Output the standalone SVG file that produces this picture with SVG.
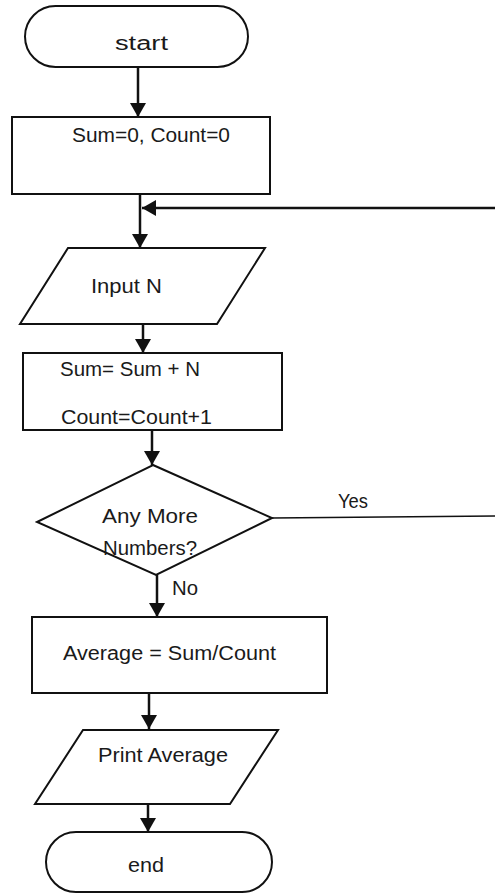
<svg xmlns="http://www.w3.org/2000/svg" width="495" height="894" viewBox="0 0 495 894">
<style>
.shape{fill:#fff;stroke:#111;stroke-width:2}
.lbl{font-family:"Liberation Sans",Arial,sans-serif;font-size:20px;fill:#1a1a1a}
.conn{fill:none;stroke:#111;stroke-width:2.5}
.thin{fill:none;stroke:#111;stroke-width:1.6}
</style>
<defs>
<marker id="ah" markerUnits="userSpaceOnUse" markerWidth="18" markerHeight="16" viewBox="0 0 14 16" refX="14" refY="8" orient="auto">
<path d="M0,0 L14,8 L0,16 Z" fill="#111"/>
</marker>
</defs>
<rect width="495" height="894" fill="#fff"/>
<g id="connectors">
<line class="conn" x1="138" y1="67" x2="138" y2="117" marker-end="url(#ah)"/>
<line class="conn" x1="140" y1="195" x2="140" y2="248" marker-end="url(#ah)"/>
<path class="thin" d="M272,518 L498,516 L498,208"/>
<line class="conn" x1="498" y1="208" x2="142" y2="208" marker-end="url(#ah)"/>
<line class="conn" x1="143" y1="324" x2="143" y2="353" marker-end="url(#ah)"/>
<line class="conn" x1="152" y1="430" x2="152" y2="465" marker-end="url(#ah)"/>
<line class="conn" x1="157" y1="575" x2="157" y2="617" marker-end="url(#ah)"/>
<line class="conn" x1="149" y1="693" x2="149" y2="729" marker-end="url(#ah)"/>
<line class="conn" x1="148" y1="804" x2="148" y2="832" marker-end="url(#ah)"/>
<text class="lbl" x="338" y="508" textLength="30" lengthAdjust="spacingAndGlyphs" font-size="18">Yes</text>
<text class="lbl" x="172" y="595" textLength="26" lengthAdjust="spacingAndGlyphs" font-size="18">No</text>
</g>
<g id="start">
<rect class="shape" x="25" y="6" width="223" height="61" rx="30.5"/>
<text class="lbl" x="115" y="50" font-size="22" textLength="53" lengthAdjust="spacingAndGlyphs">start</text>
</g>
<g id="init">
<rect class="shape" x="12" y="117" width="258" height="77"/>
<text class="lbl" x="72" y="142" textLength="158" lengthAdjust="spacingAndGlyphs">Sum=0, Count=0</text>
</g>
<g id="input">
<polygon class="shape" points="68,248 265,248 217,324 20,324"/>
<text class="lbl" x="91" y="293" textLength="71" lengthAdjust="spacingAndGlyphs">Input N</text>
</g>
<g id="update">
<rect class="shape" x="23" y="353" width="259" height="77"/>
<text class="lbl" x="60" y="376" textLength="140" lengthAdjust="spacingAndGlyphs">Sum= Sum + N</text>
<text class="lbl" x="61" y="424" textLength="151" lengthAdjust="spacingAndGlyphs">Count=Count+1</text>
</g>
<g id="decision">
<polygon class="shape" points="153,465 272,518 156,575 37,522"/>
<text class="lbl" x="102" y="523" textLength="96" lengthAdjust="spacingAndGlyphs">Any More</text>
<text class="lbl" x="103" y="555" textLength="94" lengthAdjust="spacingAndGlyphs">Numbers?</text>
</g>
<g id="average">
<rect class="shape" x="32" y="617" width="295" height="76"/>
<text class="lbl" x="63" y="660" textLength="213" lengthAdjust="spacingAndGlyphs">Average = Sum/Count</text>
</g>
<g id="print">
<polygon class="shape" points="83,730 278,730 230,804 35,804"/>
<text class="lbl" x="98" y="762" textLength="130" lengthAdjust="spacingAndGlyphs">Print Average</text>
</g>
<g id="end">
<rect class="shape" x="46" y="832" width="226" height="60" rx="30"/>
<text class="lbl" x="128" y="872" textLength="36" lengthAdjust="spacingAndGlyphs">end</text>
</g>
</svg>
